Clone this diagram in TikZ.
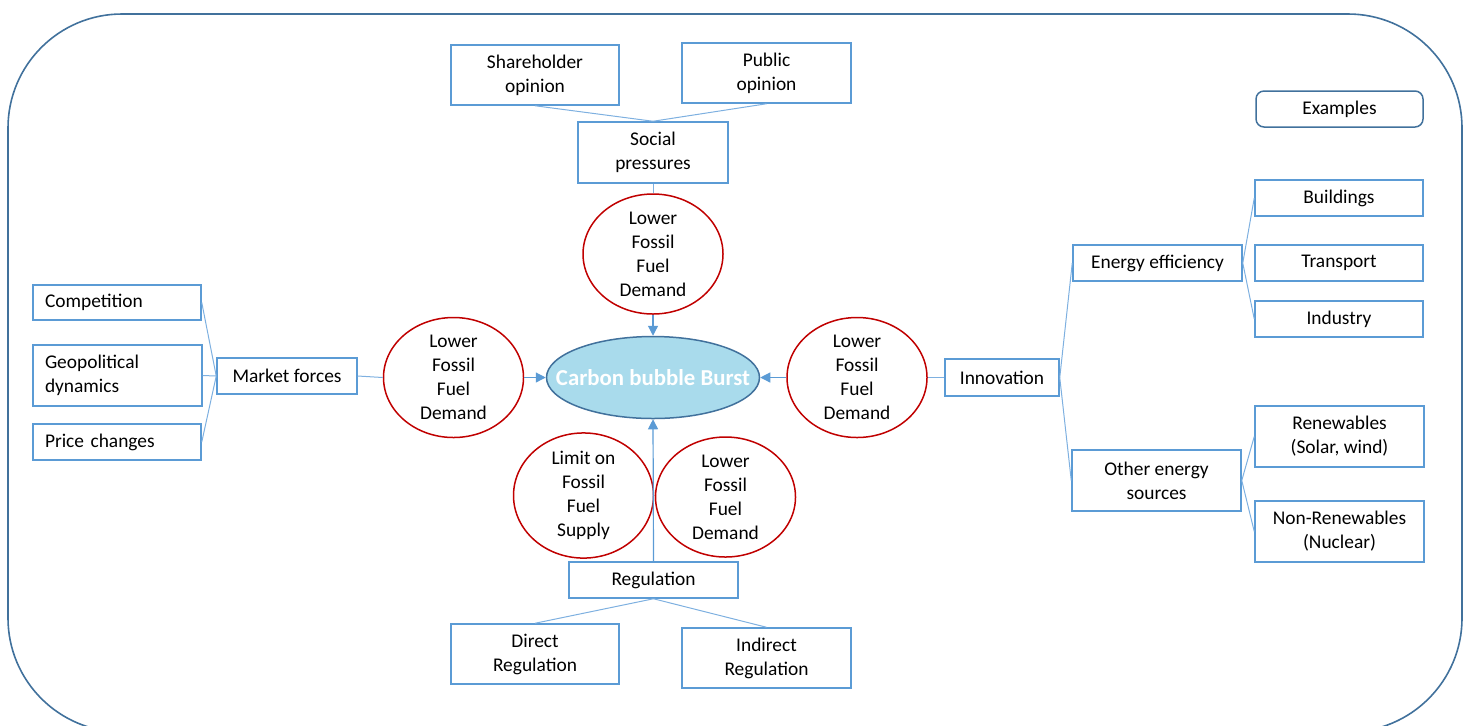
\documentclass[tikz,border=0pt]{standalone}
\usepackage{fontspec}
\setmainfont{Carlito}
\usetikzlibrary{shapes.geometric,arrows.meta}
\definecolor{boxblue}{HTML}{5B9BD5}
\definecolor{linkblue}{HTML}{7EB0E0}
\definecolor{frameblue}{HTML}{41719C}
\definecolor{bubblefill}{HTML}{A9DBEC}
\definecolor{ovalred}{HTML}{C00000}
\tikzset{
  txt/.style={font=\fontsize{9.7}{12}\selectfont, text=black},
  box/.style={txt, draw=boxblue, line width=0.75pt, align=center, inner sep=0pt},
  lbox/.style={txt, draw=boxblue, line width=0.75pt, align=left, inner ysep=0pt, inner xsep=6pt},
  oval/.style={txt, ellipse, draw=ovalred, line width=0.75pt, align=center, inner sep=0pt,
               minimum width=70pt, minimum height=60pt},
  link/.style={draw=linkblue, line width=0.5pt},
  feed/.style={draw=boxblue, line width=0.6pt, -{Triangle[width=5pt,length=5pt]}},
  bubbletext/.style={text=white, font=\fontsize{11.4}{13}\selectfont\bfseries, inner sep=0pt},
}
\begin{document}
\begin{tikzpicture}[x=0.5pt,y=-0.5pt]
\useasboundingbox (0,0) rectangle (1470,725);
\begin{scope}
\clip (0,0) rectangle (1470,725);
\draw[frameblue, line width=0.8pt, rounded corners=57pt] (8,14) rectangle (1462,732);
\end{scope}

% centre
\node[ellipse, draw=frameblue, fill=bubblefill, line width=0.75pt, minimum width=106.5pt,
      minimum height=41pt, inner sep=0pt,
      label={[bubbletext]center:Carbon bubble Burst}]
      (burst) at (653,377.5) {};

% social pressures branch
\node[box, minimum width=84pt, minimum height=30pt] (share) at (535,75) {Shareholder\\opinion};
\node[box, minimum width=84.5pt, minimum height=30pt] (public) at (766.5,73) {Public\\opinion};
\node[box, minimum width=75pt, minimum height=30.5pt] (social) at (653,152.5) {Social\\pressures};
\node[oval] (otop) at (653,254) {Lower\\Fossil\\Fuel\\Demand};

% market forces branch
\node[lbox, text width=72pt, minimum height=17.5pt] (comp) at (117,302.5) {Competition};
\node[lbox, text width=72.5pt, minimum height=30.5pt] (geo) at (117.5,375.5) {Geopolitical\\dynamics};
\node[lbox, text width=72pt, minimum height=18pt] (price) at (117,442) {Price changes};
\node[box, minimum width=70pt, minimum height=18pt] (market) at (287,376) {Market forces};
\node[oval] (oleft) at (453.5,377.5) {Lower\\Fossil\\Fuel\\Demand};

% innovation branch
\node[oval] (oright) at (857,377.5) {Lower\\Fossil\\Fuel\\Demand};
\node[box, minimum width=57pt, minimum height=18.5pt] (innov) at (1002,377.5) {Innovation};
\node[box, minimum width=84.5pt, minimum height=18pt] (eff) at (1157.5,263) {Energy efficiency};
\node[box, minimum width=84.5pt, minimum height=30.5pt] (other) at (1156.5,480.5) {Other energy\\sources};
\node[box, minimum width=84pt, minimum height=18pt] (build) at (1339,198) {Buildings};
\node[box, minimum width=84pt, minimum height=18pt] (trans) at (1339,263) {Transport};
\node[box, minimum width=84pt, minimum height=18pt] (indus) at (1339,319) {Industry};
\node[box, minimum width=84.5pt, minimum height=30.5pt] (renew) at (1339.5,436.5) {Renewables\\(Solar, wind)};
\node[box, minimum width=84.5pt, minimum height=30.5pt] (nonren) at (1339.5,531.5) {Non-Renewables\\(Nuclear)};
\node[box, draw=frameblue, rounded corners=4pt, minimum width=83.5pt, minimum height=18pt]
      (examples) at (1339.5,109) {Examples};

% regulation branch
\node[oval] (olimit) at (583.5,495.5) {Limit on\\Fossil\\Fuel\\Supply};
\node[oval] (obottom) at (725.5,497) {Lower\\Fossil\\Fuel\\Demand};
\node[box, minimum width=84.5pt, minimum height=18pt] (reg) at (653.5,580) {Regulation};
\node[box, minimum width=84pt, minimum height=30pt] (direct) at (535,654) {Direct\\Regulation};
\node[box, minimum width=84.5pt, minimum height=30pt] (indirect) at (766.5,658) {Indirect\\Regulation};

% connectors
\draw[link] (share.south) -- (social.north);
\draw[link] (public.south) -- (social.north);
\draw[link] (social.south) -- (otop.north);
\draw[feed] (otop.south) -- (burst.north);

\draw[link] (comp.east) -- (market.west);
\draw[link] (geo.east) -- (market.west);
\draw[link] (price.east) -- (market.west);
\draw[link] (market.east) -- (oleft.west);
\draw[feed] (oleft.east) -- (burst.west);

\draw[link] (innov.west) -- (oright.east);
\draw[feed] (oright.west) -- (burst.east);
\draw[link] (innov.east) -- (eff.west);
\draw[link] (innov.east) -- (other.west);
\draw[link] (eff.east) -- (build.west);
\draw[link] (eff.east) -- (indus.west);
\draw[link] (other.east) -- (renew.west);
\draw[link] (other.east) -- (nonren.west);

\draw[feed] (reg.north) -- (burst.south);
\draw[link] (reg.south) -- (direct.north);
\draw[link] (reg.south) -- (indirect.north);
\end{tikzpicture}
\end{document}
